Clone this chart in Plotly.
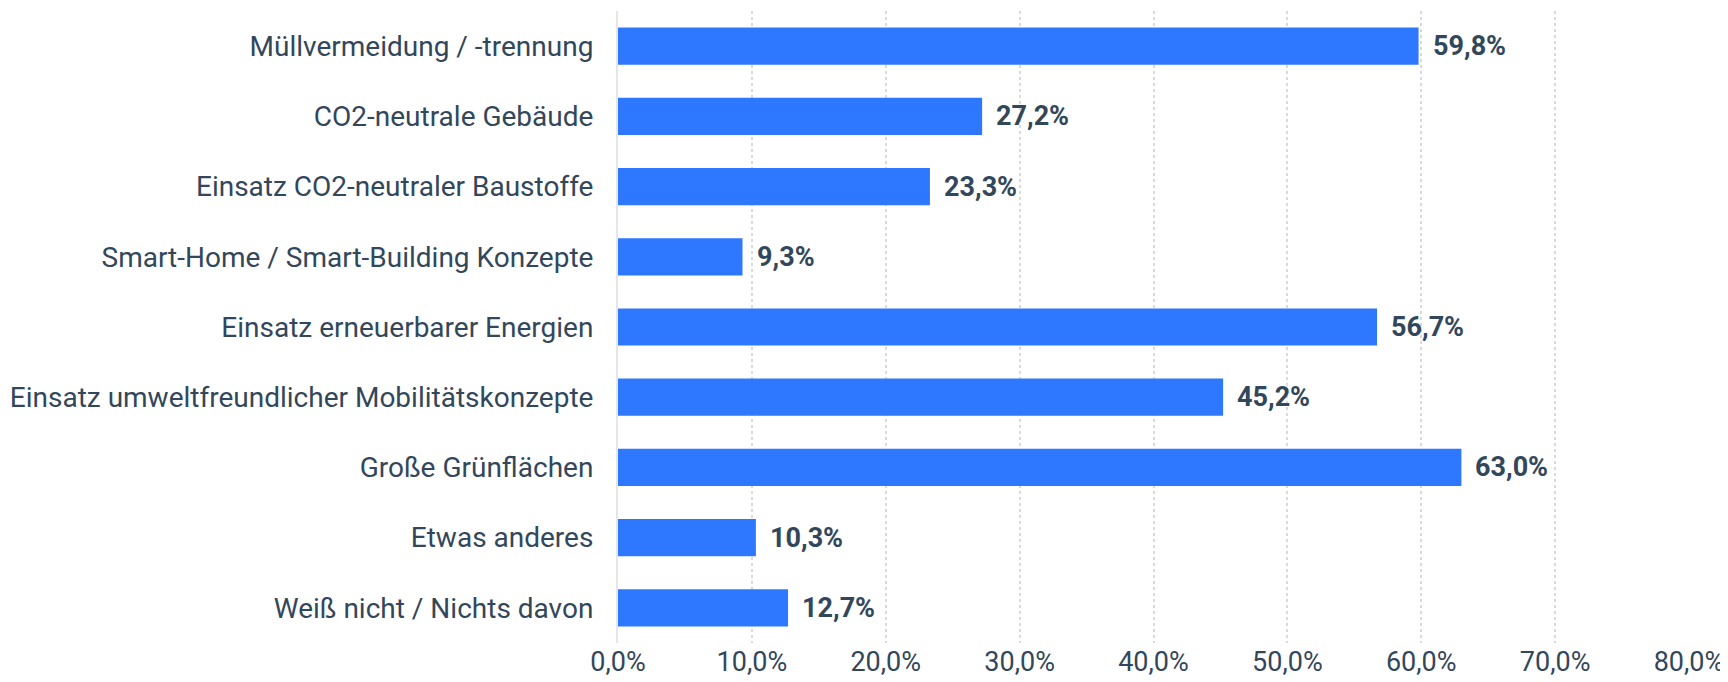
import plotly.graph_objects as go

categories = [
    "Müllvermeidung / -trennung",
    "CO2-neutrale Gebäude",
    "Einsatz CO2-neutraler Baustoffe",
    "Smart-Home / Smart-Building Konzepte",
    "Einsatz erneuerbarer Energien",
    "Einsatz umweltfreundlicher Mobilitätskonzepte",
    "Große Grünflächen",
    "Etwas anderes",
    "Weiß nicht / Nichts davon",
]
values = [59.8, 27.2, 23.3, 9.3, 56.7, 45.2, 63.0, 10.3, 12.7]
tick_values = [0, 10, 20, 30, 40, 50, 60, 70, 80]
tick_labels = [f"{t:.1f}".replace(".", ",") + "%" for t in tick_values]

BLUE = "#2e78ff"
TEXT = "#33475b"
FONT = "Roboto"
FS = 28

fig = go.Figure()
fig.add_trace(go.Bar(
    x=values, y=categories, orientation="h",
    marker=dict(color=BLUE, line=dict(width=0)),
    hoverinfo="skip",
))

for c, v in zip(categories, values):
    fig.add_annotation(
        x=v, y=c, xref="x", yref="y",
        text="<b>" + f"{v:.1f}".replace(".", ",") + "%</b>",
        showarrow=False, xanchor="left", yanchor="middle", xshift=12,
        font=dict(family=FONT, size=27, color=TEXT),
    )

fig.update_layout(
    width=1728, height=682,
    margin=dict(l=610, r=47, t=3, b=47),
    paper_bgcolor="white", plot_bgcolor="white",
    bargap=0.47,
    showlegend=False,
    font=dict(family=FONT, size=FS, color=TEXT),
)
fig.update_xaxes(
    range=[0, 80], tickvals=tick_values, ticktext=tick_labels,
    showgrid=True, gridcolor="#dadada", griddash="dot", gridwidth=1.5,
    zeroline=False, showline=False,
    ticks="", 
    tickfont=dict(family=FONT, size=27, color=TEXT),
    automargin=False,
    fixedrange=True,
)
fig.update_yaxes(
    autorange="reversed", showgrid=False, zeroline=False,
    showline=True, linecolor="#e6e6e6", linewidth=2,
    ticks="outside", ticklen=17, tickcolor="rgba(0,0,0,0)",
    tickfont=dict(family=FONT, size=FS, color=TEXT),
    automargin=False,
    fixedrange=True,
)

fig.write_html("out.html")
